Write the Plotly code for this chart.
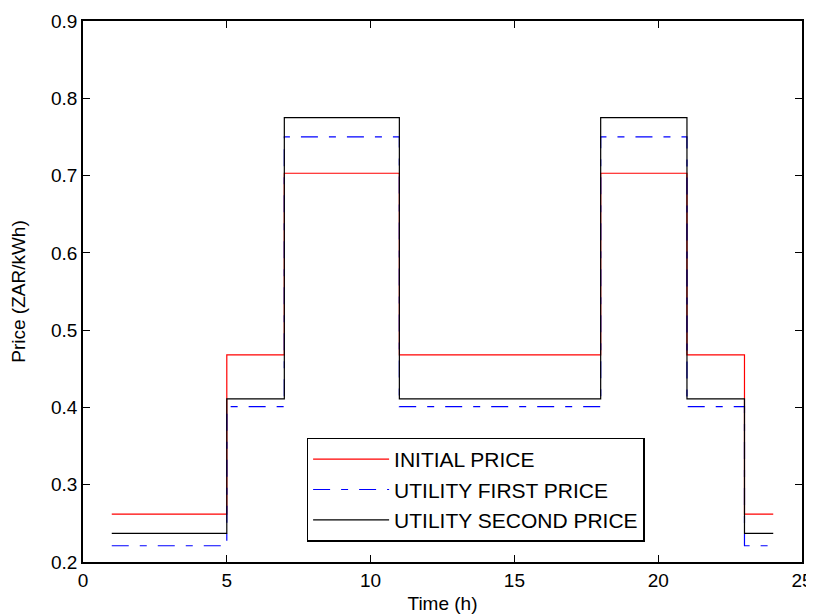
import plotly.graph_objects as go

hours = list(range(1, 25))
initial_price = [0.262]*4 + [0.468]*2 + [0.703]*4 + [0.468]*7 + [0.703]*3 + [0.468]*2 + [0.262]*2
utility_first = [0.221]*4 + [0.401]*2 + [0.750]*4 + [0.401]*7 + [0.750]*3 + [0.401]*2 + [0.221]*2
utility_second = [0.237]*4 + [0.411]*2 + [0.775]*4 + [0.411]*7 + [0.775]*3 + [0.411]*2 + [0.237]*2

names = ["INITIAL PRICE", "UTILITY FIRST PRICE", "UTILITY SECOND PRICE"]
x_ticks = [0, 5, 10, 15, 20, 25]
y_ticks = [0.2, 0.3, 0.4, 0.5, 0.6, 0.7, 0.8, 0.9]

fig = go.Figure()
fig.add_trace(go.Scatter(x=hours, y=initial_price, mode="lines", line_shape="hv",
                         name=names[0], line=dict(color="#ff0000", width=1.2)))
fig.add_trace(go.Scatter(x=hours, y=utility_first, mode="lines", line_shape="hv",
                         name=names[1], line=dict(color="#0000ff", width=1.2, dash="17px,11px,7px,11px")))
fig.add_trace(go.Scatter(x=hours, y=utility_second, mode="lines", line_shape="hv",
                         name=names[2], line=dict(color="#000000", width=1.2)))

font = "Liberation Sans, Arial, Helvetica, sans-serif"
axis_common = dict(showgrid=False, zeroline=False, showline=True, linecolor="black", linewidth=1.5,
                   mirror="allticks", ticks="inside", ticklen=7, tickcolor="black", tickwidth=1,
                   automargin=False,
                   tickfont=dict(size=19, color="black", family=font))

fig.update_xaxes(range=[0, 25], tickvals=x_ticks, ticktext=[str(v) for v in x_ticks],
                 title=dict(text="Time (h)", font=dict(size=19, family=font, color="black"), standoff=7),
                 **axis_common)
fig.update_yaxes(range=[0.2, 0.9], tickvals=y_ticks, ticktext=[f"{v:.1f}" for v in y_ticks],
                 title=dict(text="Price (ZAR/kWh)", font=dict(size=19, family=font, color="black"), standoff=20),
                 **axis_common)

# page body has an 8px margin, so the figure is sized to fit the 814x616 window
fig.update_layout(
    width=806, height=608,
    margin=dict(l=75, r=12, t=13, b=54),
    plot_bgcolor="white", paper_bgcolor="white",
    font=dict(family=font, color="black"),
    legend=dict(x=0.311, y=0.230, xanchor="left", yanchor="top",
                bgcolor="white", bordercolor="black", borderwidth=1.5,
                itemwidth=76,
                font=dict(size=21, family=font, color="black")),
)

fig.write_html("out.html")
